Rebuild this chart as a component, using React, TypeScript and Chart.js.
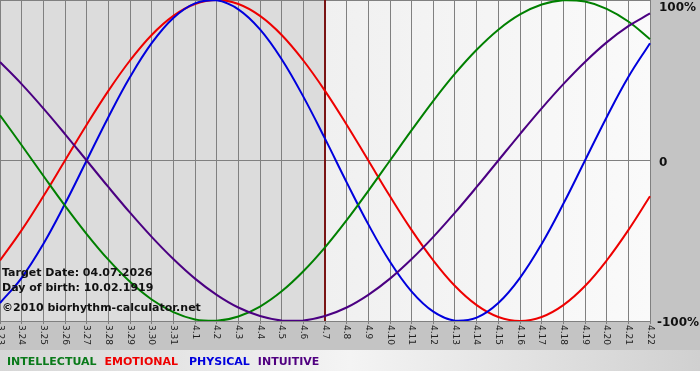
import React, { useEffect, useRef } from 'react';
import { Chart, registerables } from 'chart.js';

Chart.register(...registerables);

const dayLabels = [
  '3.23', '3.24', '3.25', '3.26', '3.27', '3.28', '3.29', '3.30', '3.31',
  '4.1', '4.2', '4.3', '4.4', '4.5', '4.6', '4.7', '4.8', '4.9', '4.10', '4.11',
  '4.12', '4.13', '4.14', '4.15', '4.16', '4.17', '4.18', '4.19', '4.20', '4.21', '4.22',
];

const intellectual = [
  0.282, 0.095, -0.095, -0.282, -0.458, -0.618, -0.756, -0.866, -0.945, -0.990,
  -0.999, -0.972, -0.910, -0.815, -0.690, -0.541, -0.372, -0.189, 0.0, 0.189,
  0.372, 0.541, 0.690, 0.815, 0.910, 0.972, 0.999, 0.990, 0.945, 0.866, 0.756,
];

const emotional = [
  -0.623, -0.434, -0.223, 0.0, 0.223, 0.434, 0.623, 0.782, 0.901, 0.975,
  1.0, 0.975, 0.901, 0.782, 0.623, 0.434, 0.223, 0.0, -0.223, -0.434,
  -0.623, -0.782, -0.901, -0.975, -1.0, -0.975, -0.901, -0.782, -0.623, -0.434, -0.223,
];

const physical = [
  -0.888, -0.731, -0.520, -0.270, 0.0, 0.270, 0.520, 0.731, 0.888, 0.979,
  0.998, 0.942, 0.817, 0.631, 0.398, 0.136, -0.136, -0.398, -0.631, -0.817,
  -0.942, -0.998, -0.979, -0.888, -0.731, -0.520, -0.270, 0.0, 0.270, 0.520, 0.731,
];

const intuitive = [
  0.614, 0.476, 0.325, 0.165, 0.0, -0.165, -0.325, -0.476, -0.614, -0.736,
  -0.837, -0.916, -0.969, -0.997, -0.997, -0.969, -0.916, -0.837, -0.736, -0.614,
  -0.476, -0.325, -0.165, 0.0, 0.165, 0.325, 0.476, 0.614, 0.736, 0.837, 0.916,
];

const seriesNames = ['INTELLECTUAL', 'EMOTIONAL', 'PHYSICAL', 'INTUITIVE'];
const yTickValues = [1, 0, -1];
const yTickLabels = ['100%', '0', '-100%'];
const targetLabel = '4.7';
const infoLines = ['Target Date: 04.07.2026', 'Day of birth: 10.02.1919', '\u00A92010 biorhythm-calculator.net'];

const COLORS = {
  intellectual: '#008000',
  emotional: '#ee0000',
  physical: '#0000dd',
  intuitive: '#4b0082',
};
const TEXT_COLORS = ['#0a7a1a', '#ee0000', '#0000dd', '#500080'];

const decorPlugin = {
  id: 'decor',
  beforeDraw(chart: any) {
    const { ctx, chartArea: a, width, height } = chart;
    const xs = chart.scales.x;
    ctx.save();
    ctx.fillStyle = '#c4c4c4';
    ctx.fillRect(0, 0, width, height);
    const gb = ctx.createLinearGradient(0, 0, width, 0);
    gb.addColorStop(0, '#d6d6d6');
    gb.addColorStop(0.5, '#f4f4f4');
    gb.addColorStop(1, '#d0d0d0');
    ctx.fillStyle = gb;
    ctx.fillRect(0, 350, width, 21);
    ctx.fillStyle = '#ffffff';
    ctx.fillRect(0, 371, width, height - 371);

    const tx = xs.getPixelForValue(dayLabels.indexOf(targetLabel));
    ctx.fillStyle = '#dcdcdc';
    ctx.fillRect(a.left, a.top, tx - a.left, a.bottom - a.top);
    const g2 = ctx.createLinearGradient(tx, 0, a.right, 0);
    g2.addColorStop(0, '#f0f0f0');
    g2.addColorStop(1, '#fafafa');
    ctx.fillStyle = g2;
    ctx.fillRect(tx, a.top, a.right - tx, a.bottom - a.top);
    ctx.restore();
  },
  beforeDatasetsDraw(chart: any) {
    const { ctx, chartArea: a } = chart;
    const xs = chart.scales.x;
    const tx = xs.getPixelForValue(dayLabels.indexOf(targetLabel));
    ctx.save();
    ctx.strokeStyle = '#7a1414';
    ctx.lineWidth = 2;
    ctx.beginPath();
    ctx.moveTo(tx, a.top);
    ctx.lineTo(tx, a.bottom);
    ctx.stroke();
    ctx.restore();
  },
  afterDraw(chart: any) {
    const { ctx, chartArea: a } = chart;
    const xs = chart.scales.x;
    const ys = chart.scales.y;
    ctx.save();
    // x labels, rotated clockwise
    ctx.font = '9px "DejaVu Sans"';
    ctx.fillStyle = '#222222';
    ctx.textAlign = 'left';
    ctx.textBaseline = 'middle';
    dayLabels.forEach((lab, i) => {
      const x = xs.getPixelForValue(i);
      ctx.save();
      ctx.translate(x, a.bottom + 4);
      ctx.rotate(Math.PI / 2);
      ctx.fillText(lab, 0, 0);
      ctx.restore();
    });
    // y labels
    ctx.font = 'bold 12px "DejaVu Sans"';
    ctx.fillStyle = '#111111';
    yTickValues.forEach((v, i) => {
      let y = ys.getPixelForValue(v);
      if (v === 1) y += 8;
      else y += 2;
      const x = v < 0 ? a.right + 7 : a.right + 9;
      ctx.fillText(yTickLabels[i], x, y);
    });
    // info text
    ctx.font = 'bold 11px "DejaVu Sans"';
    ctx.fillStyle = '#111111';
    ctx.textBaseline = 'alphabetic';
    const baselines = [276, 291, 311];
    infoLines.forEach((t, i) => ctx.fillText(t, 2, baselines[i]));
    // legend
    let lx = 7;
    seriesNames.forEach((name, i) => {
      ctx.fillStyle = TEXT_COLORS[i];
      ctx.fillText(name, lx, 365);
      lx += ctx.measureText(name).width + (i === 1 ? 11 : 8);
    });
    ctx.restore();
  },
};

export default function App() {
  const ref = useRef<HTMLCanvasElement | null>(null);
  useEffect(() => {
    document.body.style.margin = '0';
    const canvas = ref.current;
    if (!canvas) return;
    const mk = (label: string, data: number[], color: string) => ({
      label,
      data,
      borderColor: color,
      backgroundColor: color,
      borderWidth: 2,
      pointRadius: 0,
      tension: 0.4,
      fill: false,
    });
    const chart = new Chart(canvas, {
      type: 'line',
      data: {
        labels: dayLabels,
        datasets: [
          mk('Intuitive', intuitive, COLORS.intuitive),
          mk('Intellectual', intellectual, COLORS.intellectual),
          mk('Physical', physical, COLORS.physical),
          mk('Emotional', emotional, COLORS.emotional),
        ],
      },
      options: {
        animation: false,
        responsive: false,
        devicePixelRatio: 1,
        layout: { padding: { left: 0, top: 0, right: 50, bottom: 56 } },
        plugins: { legend: { display: false }, tooltip: { enabled: false } },
        scales: {
          x: {
            type: 'category',
            offset: false,
            grid: { color: '#808080', lineWidth: 1, drawTicks: true, tickLength: 3 },
            border: { color: '#808080' },
            ticks: { display: false },
          },
          y: {
            position: 'right',
            min: -1,
            max: 1,
            grid: { color: '#808080', lineWidth: 1, drawTicks: false },
            border: { color: '#808080' },
            ticks: { display: false, stepSize: 1 },
          },
        },
      },
      plugins: [decorPlugin],
    });
    return () => chart.destroy();
  }, []);
  return (
    <div style={{ position: 'absolute', left: 0, top: 0, width: 700, height: 380 }}>
      <canvas ref={ref} width={700} height={380} style={{ display: 'block', width: 700, height: 380 }} />
    </div>
  );
}
